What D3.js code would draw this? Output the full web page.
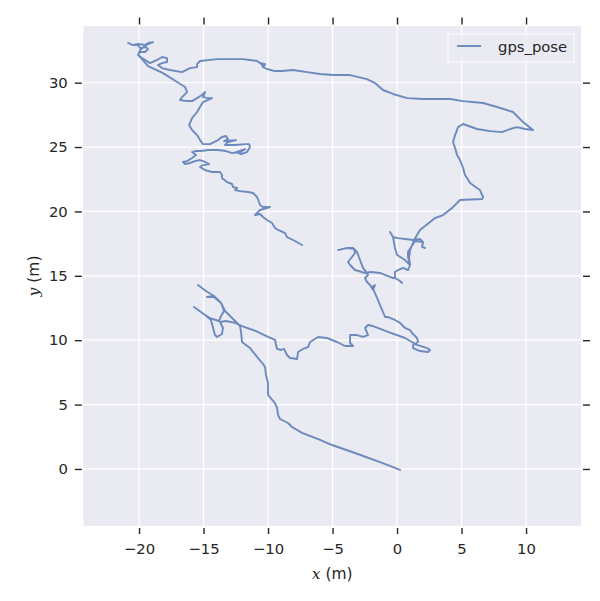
<!DOCTYPE html>
<html>
<head>
<meta charset="utf-8">
<script src="https://cdn.jsdelivr.net/npm/d3@7"></script>
<style>
  body { margin: 0; background: #fff; }
  svg { display: block; font-family: "DejaVu Sans", sans-serif; }
</style>
</head>
<body>
<svg id="chart" width="600" height="601"></svg>
<script>
// gps trajectory, in metres
const seriesName = "gps_pose";
const poseX = [0.23,-1.16,-3.26,-5.04,-5.97,-7.36,-8.14,-8.45,-9.07,-9.22,-9.30,-9.46,-10.00,-10.00,-10.00,-10.16,-10.23,-10.39,-10.85,-11.40,-12.02,-12.09,-12.17,
  -12.79,-13.33,-13.64,-14.19,-14.73,-14.19,-14.81,-15.43,-14.81,-14.19,-13.64,-13.41,-13.64,-13.80,-14.50,-14.88,-15.74,-14.88,-14.42,-14.26,-14.11,-13.95,-13.57,-13.49,-13.72,-13.26,-12.56,-12.02,
  -10.93,-10.00,-9.46,-9.30,-8.99,-8.76,-8.53,-8.29,-7.75,-7.67,-7.29,-6.90,-6.74,-6.12,-5.43,-4.65,-4.03,-3.41,-3.64,-3.64,-3.10,-2.64,-2.25,-2.48,-2.25,-1.86,-0.70,0.62,1.55,2.33,2.56,2.40,1.78,1.24,1.24,1.63,1.55,1.16,1.01,0.62,0.23,-0.16,-0.70,-0.93,-1.09,-1.32,-1.55,
  -1.78,-1.94,-1.71,-1.86,-2.09,-2.33,-2.48,-2.25,-2.40,-2.64,-2.87,-3.10,-3.41,-3.88,-4.57,-3.88,-3.33,-3.26,-3.49,-3.80,-3.64,-3.26,-2.48,-2.02,-1.32,-0.70,-0.31,-0.16,0.23,0.39,0.23,-0.16,-0.16,0.08,0.47,0.85,1.01,0.62,0.00,-0.16,-0.31,-0.54,-0.31,0.08,1.24,1.78,2.02,1.94,2.17,1.94,2.02,1.40,1.09,0.85,0.85,1.01,0.93,1.01,1.32,1.78,2.56,2.95,3.57,4.26,4.88,
  6.59,6.67,6.43,6.20,5.66,5.43,5.27,5.12,4.88,4.65,4.50,4.34,4.50,4.73,5.12,6.20,7.21,8.14,8.76,9.30,9.92,10.54,9.77,8.99,7.75,6.67,5.12,4.11,2.02,0.78,-0.31,-1.09,-1.71,-2.33,-3.64,-4.96,-5.97,-6.98,-8.06,-8.91,-9.46,-10.08,-10.39,-10.54,-10.23,-10.31,-10.85,-11.40,-11.94,-13.10,-13.95,-15.27,-15.50,-15.50,-16.05,-16.67,-17.60,-18.22,-18.53,-18.22,-17.83,-17.83,-18.22,-18.60,-19.15,
  -19.77,-20.08,-19.92,-19.53,-19.30,-19.46,-19.92,-20.08,-20.47,-20.85,-20.47,-20.08,-19.53,-19.30,-18.91,-19.30,-19.53,-19.92,-20.08,-19.77,-19.30,-18.14,-17.05,-16.43,-16.28,-16.67,-16.82,-16.28,-15.89,-15.50,-15.12,-14.88,-15.04,-14.65,-14.34,-15.04,-15.27,-15.50,-15.89,-16.12,-15.89,-15.50,-15.27,-15.04,
  -14.50,-13.88,-13.57,-13.26,-13.10,-13.41,-12.48,-13.10,-13.33,-12.56,-11.78,-11.47,-11.40,-11.63,-12.09,-12.48,-11.78,-12.17,-12.79,-13.26,-13.88,-14.65,-15.19,-15.58,-15.89,-15.58,-15.89,-16.28,-16.59,-16.43,-16.05,-15.66,-15.27,-14.88,-14.57,-15.04,-15.27,-14.88,-14.34,-13.72,-13.57,-13.57,-13.18,-12.79,-12.71,-12.40,-12.56,-12.17,-11.55,-11.16,-10.85,-10.70,-10.62,-10.39,-9.85,-10.62,-10.85,-11.01,-10.62,-10.39,-10.08,-9.69,-9.46,-9.22,-8.68,-8.53,-8.06,-7.36];
const poseY = [-0.08,0.47,1.24,1.86,2.25,2.80,3.26,3.57,3.88,4.19,4.74,5.12,5.75,5.98,6.68,7.30,7.92,8.15,8.70,9.39,9.86,10.64,11.10,
  11.72,12.27,12.89,13.35,13.35,13.43,13.82,14.29,13.82,13.43,12.89,12.27,11.88,11.49,11.72,11.96,12.58,11.96,11.57,10.95,10.40,10.25,10.48,10.95,11.41,11.49,11.34,11.10,
  10.71,10.25,10.02,9.32,9.24,9.32,8.85,8.62,8.54,9.08,9.32,9.47,9.86,10.25,10.17,9.86,9.55,9.55,9.78,10.40,10.40,10.25,10.40,10.95,11.18,11.10,10.64,10.17,9.63,9.39,9.24,9.08,9.16,9.39,9.63,9.86,10.17,10.56,10.79,10.95,11.34,11.57,11.80,11.80,12.19,12.73,13.28,
  13.82,14.13,14.29,13.90,14.29,14.52,14.83,15.06,15.30,15.61,16.23,16.85,17.16,17.16,17.00,17.16,17.08,16.77,16.46,16.07,15.84,15.45,15.22,15.30,15.22,14.98,14.83,14.83,14.60,14.44,14.60,14.83,15.30,15.45,15.61,15.45,15.84,16.23,16.62,17.16,18.01,18.40,18.01,17.93,17.78,17.86,17.62,17.24,17.16,17.24,17.62,17.70,17.24,16.85,16.46,15.84,16.38,17.00,17.78,18.56,19.18,19.49,19.72,20.26,20.89,
  20.96,21.12,21.66,21.82,22.20,22.59,22.83,23.37,23.99,24.38,24.92,25.39,25.93,26.55,26.79,26.40,26.24,26.16,26.40,26.55,26.40,26.32,26.94,27.72,28.11,28.42,28.57,28.73,28.73,28.80,29.12,29.43,29.97,30.28,30.59,30.59,30.67,30.82,30.98,30.90,30.90,31.06,31.21,31.52,31.44,31.29,31.68,31.76,31.83,31.83,31.83,31.68,31.44,31.21,31.13,30.82,30.98,31.13,31.37,31.52,31.60,31.91,31.99,31.76,31.52,
  31.91,32.14,32.38,32.38,32.61,32.76,32.68,32.92,32.92,33.08,32.92,33.00,32.92,33.08,33.15,33.00,32.84,32.53,32.14,31.83,31.29,30.74,30.05,29.66,29.27,28.88,28.65,28.57,28.57,28.80,29.04,29.27,28.88,28.80,28.80,28.49,28.11,27.72,27.25,26.71,26.32,25.93,25.54,25.23,
  25.23,25.54,25.78,25.86,25.62,25.47,25.54,25.39,25.16,25.16,25.23,25.23,25.00,24.61,24.46,24.61,24.84,24.61,24.53,24.69,24.77,24.77,24.69,24.69,24.61,24.38,24.15,23.91,23.84,23.68,23.76,23.91,23.99,23.84,23.68,23.60,23.45,23.21,23.06,23.06,22.83,22.59,22.28,22.13,21.89,21.82,21.66,21.58,21.51,21.43,21.12,20.73,20.50,20.34,20.34,20.11,19.88,19.72,19.80,19.57,19.33,19.10,18.71,18.56,18.32,18.01,17.78,17.39];

const xTicks = [-20, -15, -10, -5, 0, 5, 10];
const yTicks = [0, 5, 10, 15, 20, 25, 30];
const xDomain = [-24.32, 14.26];
const yDomain = [-4.43, 34.4];

const svg = d3.select("#chart");
const plot = {left: 83.3, right: 581, top: 26, bottom: 526};

const x = d3.scaleLinear().domain(xDomain).range([plot.left, plot.right]);
const y = d3.scaleLinear().domain(yDomain).range([plot.bottom, plot.top]);

// axes background
svg.append("rect")
    .attr("x", plot.left).attr("y", plot.top)
    .attr("width", plot.right - plot.left).attr("height", plot.bottom - plot.top)
    .attr("fill", "#eaeaf2");

// white grid
const grid = svg.append("g").attr("stroke", "#fff").attr("stroke-width", 1.3);
grid.selectAll("line.gx").data(xTicks).join("line")
    .attr("class", "gx")
    .attr("x1", d => x(d)).attr("x2", d => x(d))
    .attr("y1", plot.top).attr("y2", plot.bottom);
grid.selectAll("line.gy").data(yTicks).join("line")
    .attr("class", "gy")
    .attr("y1", d => y(d)).attr("y2", d => y(d))
    .attr("x1", plot.left).attr("x2", plot.right);

const fmt = d => d < 0 ? "\u2212" + Math.abs(d) : String(d);

function styleAxis(g) {
    g.select(".domain").remove();
    g.selectAll(".tick line").attr("stroke", "#262626").attr("stroke-width", 1.4);
    g.selectAll(".tick text").attr("fill", "#262626").style("font-size", "14.8px")
        .style("font-family", '"DejaVu Sans", sans-serif');
}

// ticks sit a bit off the axes, on all four sides
svg.append("g").attr("transform", `translate(0,${plot.bottom + 2})`)
    .call(d3.axisBottom(x).tickValues(xTicks).tickFormat(fmt).tickSize(6).tickPadding(9))
    .call(styleAxis);
svg.append("g").attr("transform", `translate(0,${plot.top - 1.5})`)
    .call(d3.axisTop(x).tickValues(xTicks).tickFormat("").tickSize(7))
    .call(styleAxis);
svg.append("g").attr("transform", `translate(${plot.left - 1.5},0)`)
    .call(d3.axisLeft(y).tickValues(yTicks).tickFormat(fmt).tickSize(7).tickPadding(7))
    .call(styleAxis);
svg.append("g").attr("transform", `translate(${plot.right + 2},0)`)
    .call(d3.axisRight(y).tickValues(yTicks).tickFormat("").tickSize(7))
    .call(styleAxis);

// trajectory
const pts = poseX.map((v, i) => [v, poseY[i]]);
svg.append("path")
    .datum(pts)
    .attr("fill", "none")
    .attr("stroke", "#4c72b0")
    .attr("stroke-opacity", 0.8)
    .attr("stroke-width", 1.9)
    .attr("stroke-linejoin", "round")
    .attr("stroke-linecap", "round")
    .attr("d", d3.line().x(d => x(d[0])).y(d => y(d[1])));

// axis labels
const xl = svg.append("text")
    .attr("x", (plot.left + plot.right) / 2).attr("y", 579)
    .attr("text-anchor", "middle").attr("fill", "#262626")
    .style("font-size", "15.5px");
xl.append("tspan").text("x").style("font-family", '"DejaVu Serif", serif').style("font-style", "italic");
xl.append("tspan").text(" (m)");

const yl = svg.append("text")
    .attr("transform", `translate(39,${(plot.top + plot.bottom) / 2}) rotate(-90)`)
    .attr("text-anchor", "middle").attr("fill", "#262626")
    .style("font-size", "15.5px");
yl.append("tspan").text("y").style("font-family", '"DejaVu Serif", serif').style("font-style", "italic");
yl.append("tspan").text(" (m)");

// legend
const lg = svg.append("g").attr("transform", "translate(448,34)");
lg.append("rect").attr("width", 126).attr("height", 28)
    .attr("fill", "#eaeaf2").attr("fill-opacity", 0.8)
    .attr("stroke", "#fff").attr("stroke-width", 1);
lg.append("line").attr("x1", 9).attr("x2", 33).attr("y1", 12).attr("y2", 12)
    .attr("stroke", "#4c72b0").attr("stroke-opacity", 0.8).attr("stroke-width", 1.9);
lg.append("text").attr("x", 50).attr("y", 17.5)
    .attr("fill", "#262626").style("font-size", "14.8px")
    .text(seriesName);
</script>
</body>
</html>
